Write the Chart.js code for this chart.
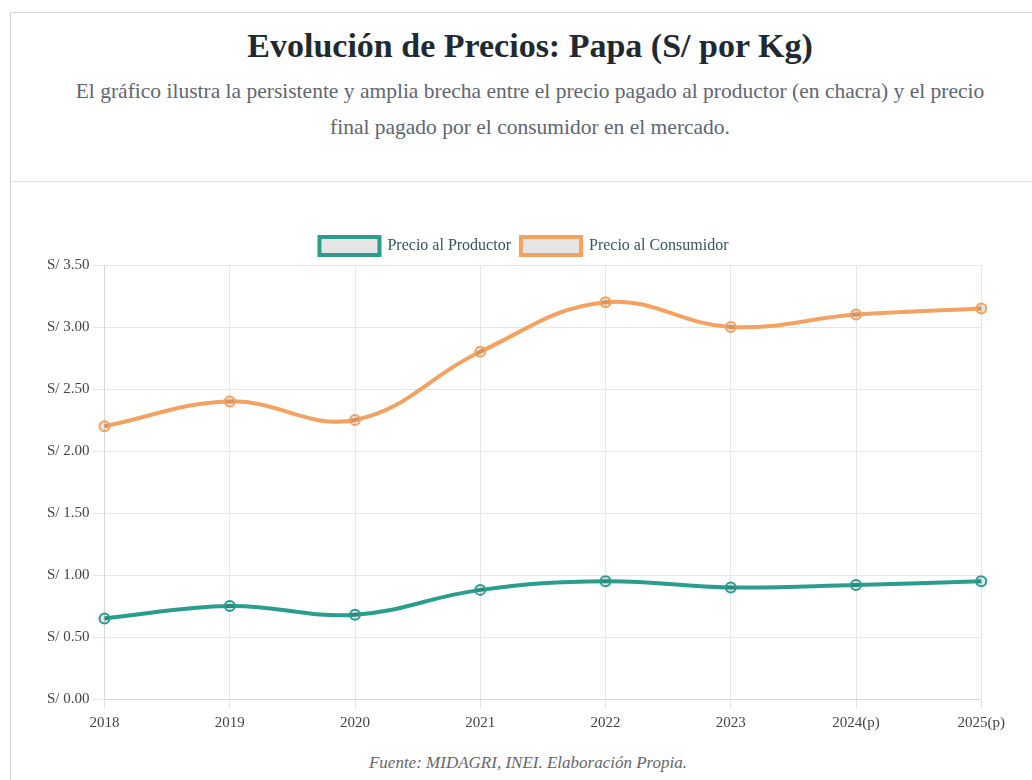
<!DOCTYPE html>
<html>
<head>
<meta charset="utf-8">
<script src="https://cdn.jsdelivr.net/npm/chart.js@4.4.0/dist/chart.umd.min.js"></script>
<style>
  body { margin: 0; background: #fff; width: 1032px; height: 780px; overflow: hidden; font-family: "Liberation Serif", serif; }
  .card { position: absolute; left: 10px; top: 12px; width: 1040px; height: 800px; border: 1px solid #d4d4d4; box-sizing: border-box; }
  .head { height: 168px; border-bottom: 1px solid #e2e2e2; text-align: center; }
  h1 { margin: 0; padding-top: 14px; font-size: 34px; color: #1f2933; font-weight: bold; }
  .sub { margin: 8px auto 0; width: 945px; font-size: 21.5px; line-height: 36px; color: #5f6670; }
  .wrap { position: absolute; left: 10px; top: 227px; width: 1000px; height: 510px; }
  .src { position: absolute; left: 0; width: 1056px; top: 753px; text-align: center; font-style: italic; font-size: 17px; color: #666; }
</style>
</head>
<body>
<div class="card">
  <div class="head">
    <h1>Evolución de Precios: Papa (S/ por Kg)</h1>
    <div class="sub">El gráfico ilustra la persistente y amplia brecha entre el precio pagado al productor (en chacra) y el precio final pagado por el consumidor en el mercado.</div>
  </div>
</div>
<div class="wrap"><canvas id="myChart"></canvas></div>
<div class="src">Fuente: MIDAGRI, INEI. Elaboración Propia.</div>
<script>
const years = ["2018", "2019", "2020", "2021", "2022", "2023", "2024(p)", "2025(p)"];
const productor = [0.65, 0.75, 0.68, 0.88, 0.95, 0.90, 0.92, 0.95];
const consumidor = [2.20, 2.40, 2.25, 2.80, 3.20, 3.00, 3.10, 3.15];

const ctx = document.getElementById("myChart").getContext("2d");
new Chart(ctx, {
  type: "line",
  data: {
    labels: years,
    datasets: [{
      label: "Precio al Productor",
      data: productor,
      borderColor: "#2a9d8f",
      borderWidth: 4,
      tension: 0.4,
      pointRadius: 5,
      pointBorderWidth: 2
    }, {
      label: "Precio al Consumidor",
      data: consumidor,
      borderColor: "#f4a261",
      borderWidth: 4,
      tension: 0.4,
      pointRadius: 5,
      pointBorderWidth: 2
    }]
  },
  options: {
    responsive: true,
    maintainAspectRatio: false,
    animation: false,
    layout: { padding: { left: 34, right: 6 } },
    plugins: {
      legend: {
        labels: {
          boxWidth: 60, boxHeight: 18,
          color: "#35545f",
          font: { family: "Liberation Serif", size: 16 }
        }
      }
    },
    scales: {
      x: {
        grid: { color: "#e6e6ea", tickLength: 10 },
        border: { color: "#d8d8dc" },
        ticks: { padding: 5, color: "#444", font: { family: "Liberation Serif", size: 15 } }
      },
      y: {
        min: 0, max: 3.5,
        grid: { color: "#e6e6ea", tickLength: 12 },
        border: { color: "#d8d8dc" },
        ticks: {
          stepSize: 0.5,
          color: "#444",
          font: { family: "Liberation Serif", size: 15 },
          callback: v => "S/ " + v.toFixed(2)
        }
      }
    }
  }
});
</script>
</body>
</html>
